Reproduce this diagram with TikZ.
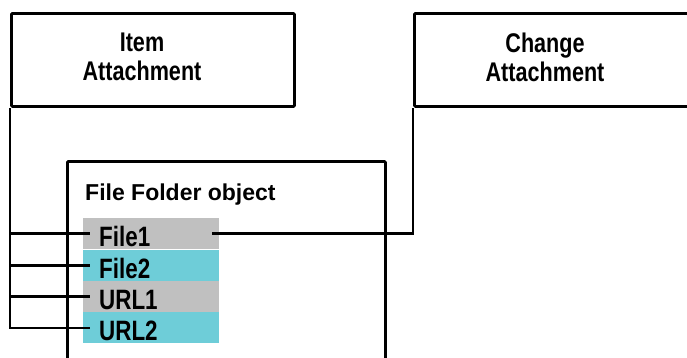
\documentclass[tikz,border=0pt]{standalone}
\usepackage{fontspec}
\setmainfont{Liberation Sans}
\newfontfamily\narrowfont{Liberation Sans}[FakeStretch=0.8]
\usetikzlibrary{positioning}
\definecolor{rowgray}{RGB}{192,192,192}
\definecolor{rowcyan}{RGB}{110,205,216}
\tikzset{
box/.style={draw, line width=2.8pt, rounded corners=1pt, anchor=north west, inner sep=0pt}, % frames of the objects
hdrtext/.style={font=\narrowfont\bfseries\fontsize{27}{29}\selectfont, align=center, inner sep=0pt},
row/.style={minimum width=136pt, minimum height=31pt, text width=104pt, inner xsep=16pt, inner ysep=0pt,
  align=left, text height=26pt, text depth=0pt, font=\narrowfont\bfseries\fontsize{28}{30}\selectfont},
link/.style={line width=2.8pt},
}

\begin{document}
\begin{tikzpicture}[x=1pt, y=-1pt]
  \useasboundingbox[fill=white] (0,0) rectangle (687,357);
  \clip (0,0) rectangle (687,357);

  % Objects
  \node[box, minimum width=283pt, minimum height=93pt] (item) at (10,12) {};
  \node[hdrtext] (itemlbl) at (142,57) {Item\\Attachment};
  \node[box, minimum width=300pt, minimum height=93pt] (change) at (413,12) {};
  \node[hdrtext] (changelbl) at (545,57) {Change\\Attachment};
  \node[box, minimum width=318pt, minimum height=220pt] (folder) at (66,160) {};
  \node[anchor=base west, inner sep=0pt, font=\bfseries\fontsize{23}{25}\selectfont] (title) at (85,200) {File Folder object};

  % Entries
  \node[row, fill=rowgray, anchor=north west] (f1) at (83,218) {File1};
  \node[row, fill=rowcyan, below=0pt of f1] (f2) {File2};
  \node[row, fill=rowgray, below=0pt of f2] (u1) {URL1};
  \node[row, fill=rowcyan, below=0pt of u1] (u2) {URL2};

  % Links
  \draw[link] (item.south west) |- ([xshift=7pt]u2.west);
  \draw[link] (item.south west |- f1.west) -- ([xshift=7pt]f1.west);
  \draw[link] (item.south west |- f2.west) -- ([xshift=7pt]f2.west);
  \draw[link] (item.south west |- u1.west) -- ([xshift=7pt]u1.west);
  \draw[link] ([xshift=-7pt]f1.east) -| (change.south west);
\end{tikzpicture}
\end{document}
